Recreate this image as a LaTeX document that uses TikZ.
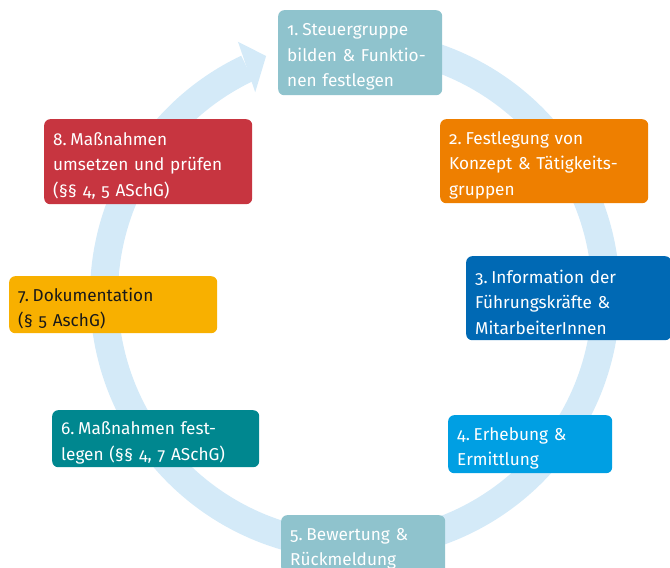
\documentclass[tikz,border=0pt]{standalone}
\usepackage{fontspec}
\setmainfont{Fira Sans}[Numbers=OldStyle]
\usetikzlibrary{calc}
\definecolor{ringcol}{HTML}{D4EAF8}
\definecolor{cA}{HTML}{8FC3CD}
\definecolor{cB}{HTML}{EE7F00}
\definecolor{cC}{HTML}{0069B4}
\definecolor{cD}{HTML}{009FE3}
\definecolor{cF}{HTML}{00878F}
\definecolor{cG}{HTML}{F8B000}
\definecolor{cH}{HTML}{C73540}
\newcommand{\nsp}{\kern-0.12em\ }
\begin{document}
\begin{tikzpicture}[x=1pt,y=1pt,
  stepbox/.style={rounded corners=6pt, anchor=north west, inner xsep=9pt, inner ysep=0pt,
    align=left, text=white, font=\fontsize{17.2}{25.5}\selectfont,
    execute at begin node={\rule{0pt}{21pt}}},
  boxsize/.style n args={3}{minimum width=#1pt, minimum height=#2pt, text width=#3pt}]
\useasboundingbox (0,0) rectangle (670,-568);
% ring arrow
\coordinate (c) at (355,-295);
\draw[ringcol, line width=28pt] ($(c)+(95:251)$) arc[start angle=95, end angle=-244.6, radius=251];
\fill[ringcol] ($(c)+(114.8:279)$) -- ($(c)+(110.4:255)$) -- ($(c)+(116.2:226)$) -- cycle;
% boxes
\node[stepbox, fill=cA, boxsize={162}{85}{146}] (s1) at (278,-10) {1.\nsp Steuergruppe\\bilden \& Funktio-\\nen festlegen};
\node[stepbox, fill=cB, boxsize={206}{84}{190}] (s2) at (440,-119) {2.\nsp Festlegung von\\Konzept \& Tätigkeits-\\gruppen};
\node[stepbox, fill=cC, boxsize={203}{84}{187}] (s3) at (466,-256) {3.\nsp Information der\\Führungskräfte \&\\MitarbeiterInnen};
\node[stepbox, fill=cD, boxsize={162}{58}{146}] (s4) at (448,-415) {4.\nsp Erhebung \&\\Ermittlung};
\node[stepbox, fill=cA, boxsize={162}{58}{146}] (s5) at (281,-515) {5.\nsp Bewertung \&\\Rückmeldung};
\node[stepbox, fill=cF, boxsize={205}{57}{189}] (s6) at (52,-410) {6.\nsp Maßnahmen fest-\\legen (§§ 4, 7 ASchG)};
\node[stepbox, fill=cG, text=black!90, boxsize={206}{57}{190}] (s7) at (9,-276) {7.\nsp Dokumentation\\(§ 5 AschG)};
\node[stepbox, fill=cH, boxsize={206}{85}{190}] (s8) at (44,-119) {8.\nsp Maßnahmen\\umsetzen und prüfen\\(§§ 4, 5 ASchG)};
\end{tikzpicture}
\end{document}
